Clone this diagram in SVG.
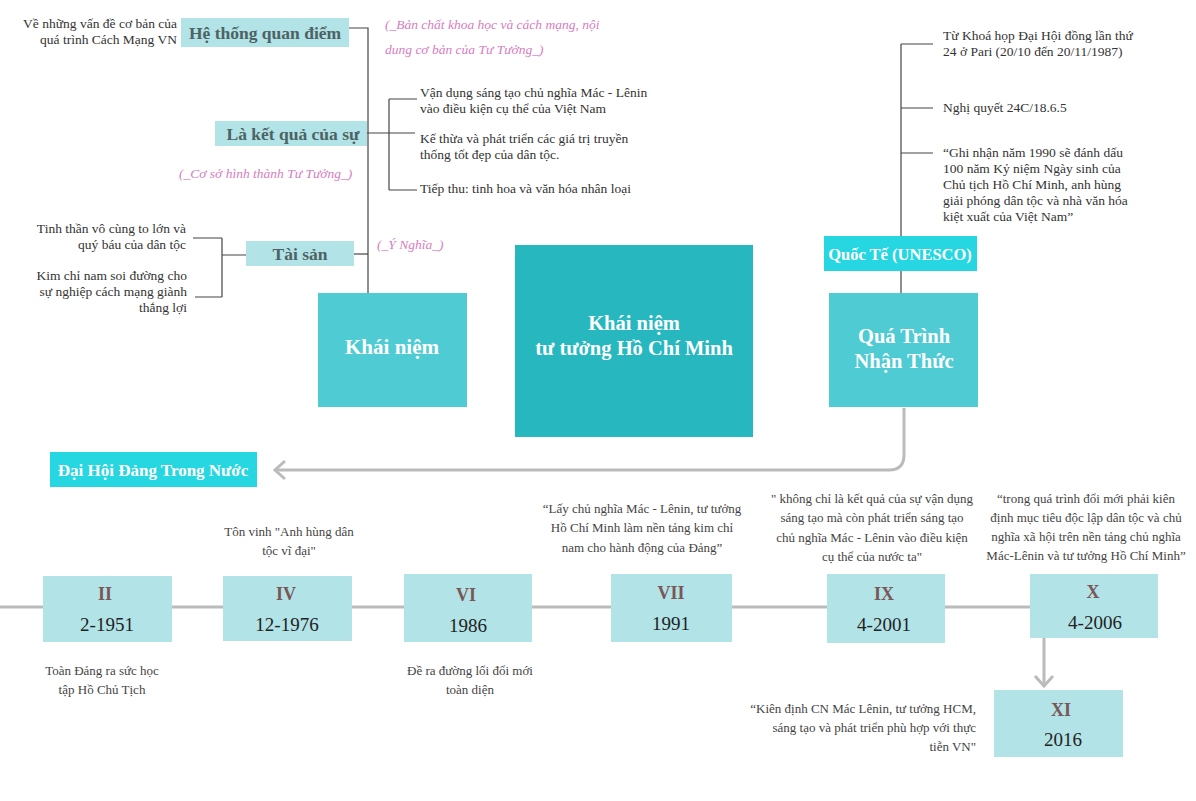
<svg xmlns="http://www.w3.org/2000/svg" width="1196" height="801" viewBox="0 0 1196 801">
<defs>
<style>
.t{font-family:"Liberation Serif","DejaVu Serif",serif;font-size:13.5px;fill:#333}
.tl{font-family:"Liberation Serif","DejaVu Serif",serif;font-size:13px;fill:#444}
.pk{font-family:"Liberation Serif","DejaVu Serif",serif;font-size:13.5px;font-style:italic;fill:#d77cbf}
.hd{font-family:"Liberation Serif","DejaVu Serif",serif;font-size:17.5px;font-weight:bold;fill:#4d6263}
.wb{font-family:"Liberation Serif","DejaVu Serif",serif;font-size:17px;font-weight:bold;fill:#fff}
.big{font-family:"Liberation Serif","DejaVu Serif",serif;font-size:20.5px;font-weight:bold;fill:#fff}
.rn{font-family:"Liberation Serif","DejaVu Serif",serif;font-size:18px;font-weight:bold;fill:#7a5656}
.yr{font-family:"Liberation Serif","DejaVu Serif",serif;font-size:19px;fill:#222}
.lt{fill:#b2e3e7}
.md{fill:#4ecbd3}
.br{fill:#26d6e0}
.ln{stroke:#444;stroke-width:1.2;fill:none}
.ar{stroke:#bbb;stroke-width:3;fill:none}
</style>
<marker id="chev" markerUnits="userSpaceOnUse" markerWidth="14" markerHeight="22" viewBox="0 0 14 22" refX="12" refY="11" orient="auto">
<path d="M2,2 L12,11 L2,20" fill="none" stroke="#bbb" stroke-width="3"/>
</marker>
</defs>
<rect width="1196" height="801" fill="#fff"/>

<g id="connectors">
<path class="ln" d="M349,28 H368 V293"/>
<path class="ln" d="M367,133 H415 M389,99 V190 M389,99 H417 M389,190 H417"/>
<path class="ln" d="M354,254 H368"/>
<path class="ln" d="M246,255 H222 M222,238 V297 M222,238 H193 M222,297 H195"/>
<path class="ln" d="M901,44 V293 M901,44 H933 M901,108 H933 M901,153 H933"/>
<path class="ar" d="M904,408 V455 Q904,470 889,470 H275" marker-end="url(#chev)"/>
<path class="ar" d="M0,607 H1030"/>
<path class="ar" d="M1044,638 V686" marker-end="url(#chev)"/>
</g>

<g id="he-thong">
<rect class="lt" x="181" y="18" width="168" height="29"/>
<text class="hd" x="265" y="39" text-anchor="middle">Hệ thống quan điểm</text>
<text class="t" text-anchor="end"><tspan x="177" y="28">Về những vấn đề cơ bản của</tspan><tspan x="177" y="44">quá trình Cách Mạng VN</tspan></text>
<text class="pk"><tspan x="385" y="29">(_Bản chất khoa học và cách mạng, nội</tspan><tspan x="385" y="54">dung cơ bản của Tư Tưởng_)</tspan></text>
</g>

<g id="ket-qua">
<rect class="lt" x="215" y="121" width="152" height="25"/>
<text class="hd" x="293" y="140" text-anchor="middle">Là kết quả của sự</text>
<text class="t"><tspan x="420" y="97">Vận dụng sáng tạo chủ nghĩa Mác - Lênin</tspan><tspan x="420" y="113">vào điều kiện cụ thể của Việt Nam</tspan></text>
<text class="t"><tspan x="420" y="143">Kế thừa và phát triển các giá trị truyền</tspan><tspan x="420" y="159">thống tốt đẹp của dân tộc.</tspan></text>
<text class="t" x="420" y="193">Tiếp thu: tinh hoa và văn hóa nhân loại</text>
<text class="pk" x="179" y="178">(_Cơ sở hình thành Tư Tưởng_)</text>
</g>

<g id="tai-san">
<rect class="lt" x="246" y="241" width="108" height="25"/>
<text class="hd" x="300" y="260" text-anchor="middle">Tài sản</text>
<text class="t" text-anchor="end"><tspan x="186" y="233">Tinh thần vô cùng to lớn và</tspan><tspan x="186" y="249">quý báu của dân tộc</tspan></text>
<text class="t" text-anchor="end"><tspan x="187" y="280">Kim chỉ nam soi đường cho</tspan><tspan x="187" y="296">sự nghiệp cách mạng giành</tspan><tspan x="187" y="312">thắng lợi</tspan></text>
<text class="pk" x="377" y="249">(_Ý Nghĩa_)</text>
</g>

<g id="khai-niem">
<rect class="md" x="318" y="293" width="149" height="114"/>
<text class="big" x="392" y="354" text-anchor="middle" style="font-size:21px">Khái niệm</text>
</g>

<g id="center">
<rect fill="#27b8bf" x="515" y="245" width="238" height="192"/>
<text class="big" text-anchor="middle"><tspan x="634" y="330">Khái niệm</tspan><tspan x="634" y="355">tư tưởng Hồ Chí Minh</tspan></text>
</g>

<g id="qua-trinh">
<rect class="md" x="829" y="293" width="149" height="114"/>
<text class="big" text-anchor="middle"><tspan x="904" y="343">Quá Trình</tspan><tspan x="904" y="368">Nhận Thức</tspan></text>
</g>

<g id="quoc-te">
<rect class="br" x="824" y="236" width="153" height="35"/>
<text class="wb" x="900" y="260" text-anchor="middle" style="font-size:16.5px">Quốc Tế (UNESCO)</text>
<text class="t"><tspan x="943" y="40">Từ Khoá họp Đại Hội đồng lần thứ</tspan><tspan x="943" y="56">24 ở Pari (20/10 đến 20/11/1987)</tspan></text>
<text class="t" x="943" y="112">Nghị quyết 24C/18.6.5</text>
<text class="t"><tspan x="943" y="157">“Ghi nhận năm 1990 sẽ đánh dấu</tspan><tspan x="943" y="173">100 năm Kỷ niệm Ngày sinh của</tspan><tspan x="943" y="189">Chủ tịch Hồ Chí Minh, anh hùng</tspan><tspan x="943" y="205">giải phóng dân tộc và nhà văn hóa</tspan><tspan x="943" y="221">kiệt xuất của Việt Nam”</tspan></text>
</g>

<g id="dai-hoi">
<rect class="br" x="50" y="452" width="207" height="35"/>
<text class="wb" x="153" y="476" text-anchor="middle">Đại Hội Đảng Trong Nước</text>
</g>

<g id="dh-II">
<rect class="lt" x="43" y="576" width="129" height="66"/>
<text class="rn" x="105" y="600" text-anchor="middle">II</text>
<text class="yr" x="107" y="631" text-anchor="middle">2-1951</text>
<text class="tl" text-anchor="middle"><tspan x="102" y="675">Toàn Đảng ra sức học</tspan><tspan x="102" y="694">tập Hồ Chủ Tịch</tspan></text>
</g>

<g id="dh-IV">
<rect class="lt" x="223" y="576" width="129" height="65"/>
<text class="rn" x="286" y="600" text-anchor="middle">IV</text>
<text class="yr" x="287" y="631" text-anchor="middle">12-1976</text>
<text class="tl" text-anchor="middle"><tspan x="289" y="536">Tôn vinh "Anh hùng dân</tspan><tspan x="289" y="555">tộc vĩ đại"</tspan></text>
</g>

<g id="dh-VI">
<rect class="lt" x="404" y="574" width="128" height="68"/>
<text class="rn" x="466" y="601" text-anchor="middle">VI</text>
<text class="yr" x="468" y="632" text-anchor="middle">1986</text>
<text class="tl" text-anchor="middle"><tspan x="470" y="675">Đề ra đường lối đổi mới</tspan><tspan x="470" y="694">toàn diện</tspan></text>
</g>

<g id="dh-VII">
<rect class="lt" x="611" y="574" width="121" height="68"/>
<text class="rn" x="671" y="599" text-anchor="middle">VII</text>
<text class="yr" x="671" y="630" text-anchor="middle">1991</text>
<text class="tl" text-anchor="middle"><tspan x="642" y="513">“Lấy chủ nghĩa Mác - Lênin, tư tưởng</tspan><tspan x="642" y="532">Hồ Chí Minh làm nền tảng kim chỉ</tspan><tspan x="642" y="552">nam cho hành động của Đảng”</tspan></text>
</g>

<g id="dh-IX">
<rect class="lt" x="827" y="574" width="118" height="69"/>
<text class="rn" x="884" y="600" text-anchor="middle">IX</text>
<text class="yr" x="884" y="631" text-anchor="middle">4-2001</text>
<text class="tl" text-anchor="middle"><tspan x="872" y="503">" không chỉ là kết quả của sự vận dụng</tspan><tspan x="872" y="522">sáng tạo mà còn phát triển sáng tạo</tspan><tspan x="872" y="542">chủ nghĩa Mác - Lênin vào điều kiện</tspan><tspan x="872" y="561">cụ thể của nước ta"</tspan></text>
</g>

<g id="dh-X">
<rect class="lt" x="1030" y="574" width="128" height="64"/>
<text class="rn" x="1093" y="598" text-anchor="middle">X</text>
<text class="yr" x="1095" y="629" text-anchor="middle">4-2006</text>
<text class="tl" text-anchor="middle"><tspan x="1086" y="503">“trong quá trình đổi mới phải kiên</tspan><tspan x="1086" y="522">định mục tiêu độc lập dân tộc và chủ</tspan><tspan x="1086" y="541">nghĩa xã hội trên nền tảng chủ nghĩa</tspan><tspan x="1086" y="560">Mác-Lênin và tư tưởng Hồ Chí Minh”</tspan></text>
</g>

<g id="dh-XI">
<rect class="lt" x="994" y="690" width="129" height="67"/>
<text class="rn" x="1061" y="716" text-anchor="middle">XI</text>
<text class="yr" x="1063" y="746" text-anchor="middle">2016</text>
<text class="tl" text-anchor="end"><tspan x="976" y="713">“Kiên định CN Mác Lênin, tư tưởng HCM,</tspan><tspan x="976" y="732">sáng tạo và phát triển phù hợp với thực</tspan><tspan x="976" y="751">tiễn VN"</tspan></text>
</g>
</svg>
